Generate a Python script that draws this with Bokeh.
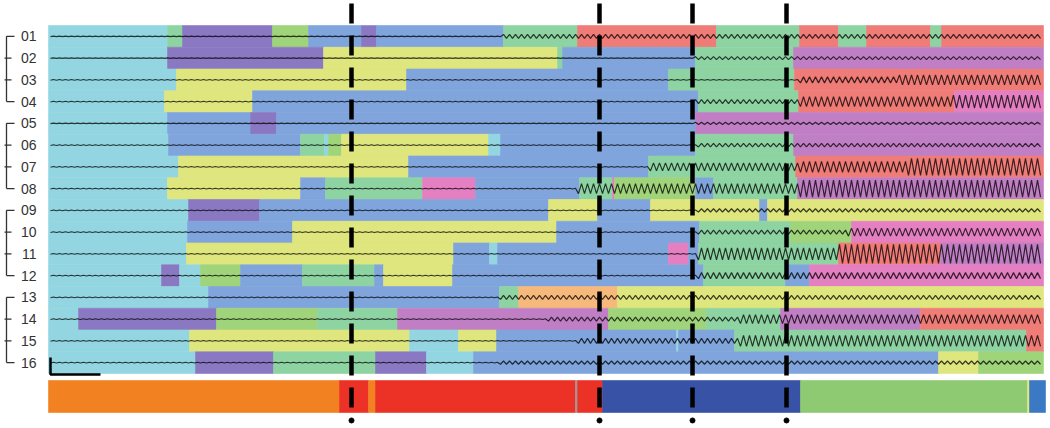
from bokeh.plotting import figure
from bokeh.models import Range1d
from bokeh.embed import file_html
from bokeh.resources import INLINE
from bokeh.core.properties import value

# ---------------- data ----------------
channels = ["01", "02", "03", "04", "05", "06", "07", "08",
            "09", "10", "11", "12", "13", "14", "15", "16"]

state_colors = {
    "cyan": "#93d6e2", "purple": "#8a79c2", "mint": "#8ed4a3", "lime": "#a0d47a",
    "blue": "#80a5dc", "yellow": "#dfe67e", "red": "#f07c78", "pink": "#e47fc1",
    "orchid": "#c07fc4", "orange": "#f7b87c",
}

# segments per channel: (start time, end time, state)
ch01 = [(0, 119, "cyan"), (119, 134, "mint"), (134, 224, "purple"), (224, 260, "lime"),
        (260, 313, "blue"), (313, 328, "purple"), (328, 455, "blue"), (455, 529, "mint"),
        (529, 668, "red"), (668, 751, "mint"), (751, 790, "red"), (790, 818, "mint"),
        (818, 882, "red"), (882, 893, "mint"), (893, 995, "red")]
ch02 = [(0, 119, "cyan"), (119, 275, "purple"), (275, 509, "yellow"), (509, 514, "mint"),
        (514, 647, "blue"), (647, 745, "mint"), (745, 995, "orchid")]
ch03 = [(0, 128, "cyan"), (128, 358, "yellow"), (358, 620, "blue"), (620, 746, "mint"),
        (746, 995, "red")]
ch04 = [(0, 116, "cyan"), (116, 204, "yellow"), (204, 650, "blue"), (650, 750, "mint"),
        (750, 906, "red"), (906, 995, "pink")]
ch05 = [(0, 119, "cyan"), (119, 202, "blue"), (202, 228, "purple"), (228, 647, "blue"),
        (647, 995, "orchid")]
ch06 = [(0, 120, "cyan"), (120, 252, "blue"), (252, 276, "mint"), (276, 280, "cyan"),
        (280, 293, "lime"), (293, 440, "yellow"), (440, 452, "cyan"), (452, 647, "blue"),
        (647, 745, "mint"), (745, 995, "orchid")]
ch07 = [(0, 130, "cyan"), (130, 360, "yellow"), (360, 600, "blue"), (600, 747, "mint"),
        (747, 995, "red")]
ch08 = [(0, 119, "cyan"), (119, 252, "yellow"), (252, 277, "blue"), (277, 374, "mint"),
        (374, 427, "pink"), (427, 531, "blue"), (531, 564, "mint"), (564, 566, "pink"),
        (566, 647, "lime"), (647, 665, "blue"), (665, 749, "mint"), (749, 995, "orchid")]
ch09 = [(0, 140, "cyan"), (140, 211, "purple"), (211, 500, "blue"), (500, 549, "yellow"),
        (549, 602, "blue"), (602, 711, "yellow"), (711, 719, "blue"), (719, 995, "yellow")]
ch10 = [(0, 139, "cyan"), (139, 244, "blue"), (244, 508, "yellow"), (508, 651, "blue"),
        (651, 742, "mint"), (742, 803, "lime"), (803, 995, "pink")]
ch11 = [(0, 138, "cyan"), (138, 405, "yellow"), (405, 441, "blue"), (441, 449, "cyan"),
        (449, 620, "blue"), (620, 640, "pink"), (640, 650, "blue"), (650, 790, "mint"),
        (790, 892, "red"), (892, 995, "orchid")]
ch12 = [(0, 113, "cyan"), (113, 131, "purple"), (131, 152, "cyan"), (152, 192, "lime"),
        (192, 254, "blue"), (254, 326, "mint"), (326, 335, "blue"), (335, 404, "yellow"),
        (404, 655, "blue"), (655, 737, "mint"), (737, 761, "blue"), (761, 995, "pink")]
ch13 = [(0, 160, "cyan"), (160, 451, "blue"), (451, 470, "mint"), (470, 569, "orange"),
        (569, 995, "yellow")]
ch14 = [(0, 30, "cyan"), (30, 168, "purple"), (168, 269, "lime"), (269, 349, "mint"),
        (349, 560, "orchid"), (560, 658, "lime"), (658, 732, "mint"), (732, 872, "orchid"),
        (872, 995, "red")]
ch15 = [(0, 141, "cyan"), (141, 361, "yellow"), (361, 410, "cyan"), (410, 448, "yellow"),
        (448, 628, "blue"), (628, 630, "cyan"), (630, 686, "blue"), (686, 978, "mint"),
        (978, 995, "red")]
ch16 = [(0, 147, "cyan"), (147, 225, "purple"), (225, 327, "mint"), (327, 378, "purple"),
        (378, 425, "cyan"), (425, 890, "blue"), (890, 930, "yellow"), (930, 995, "lime")]
segments = [ch01, ch02, ch03, ch04, ch05, ch06, ch07, ch08,
            ch09, ch10, ch11, ch12, ch13, ch14, ch15, ch16]

# global state bar: (start, end, colour)
bar_colors = {"orange": "#f28122", "red": "#ec3226", "grey": "#9a9a9a",
              "navy": "#3853a5", "green": "#8dca72", "yellow": "#e3e87a", "blue": "#3b79c5"}
state_bar = [(0, 291, "orange"), (291, 320, "red"), (320, 327, "orange"), (327, 527, "red"),
             (527, 529, "grey"), (529, 554, "red"), (554, 752, "navy"), (752, 979, "green"),
             (979, 981, "yellow"), (981, 997, "blue")]

# event markers (time)
markers = [303, 551, 644, 738]

# trace amplitude envelope per channel: (from time, half amplitude)
env01 = [(0, 0.3), (455, 2.0)]
env02 = [(0, 0.3), (645, 1.5)]
env03 = [(0, 0.4), (750, 3.0), (850, 5.0)]
env04 = [(0, 0.4), (645, 2.0), (750, 5.0), (905, 6.5)]
env05 = [(0, 0.3), (645, 1.2)]
env06 = [(0, 0.4), (650, 1.8)]
env07 = [(0, 0.4), (600, 4.0), (750, 5.5), (860, 8.5)]
env08 = [(0, 0.4), (530, 5.0), (750, 8.5)]
env09 = [(0, 0.4), (650, 1.6)]
env10 = [(0, 0.4), (650, 2.0), (800, 4.0)]
env11 = [(0, 0.4), (650, 6.0), (790, 9.5)]
env12 = [(0, 0.4), (650, 3.0)]
env13 = [(0, 0.4), (450, 2.0)]
env14 = [(0, 0.4), (500, 2.0), (690, 4.5)]
env15 = [(0, 0.4), (530, 2.5), (690, 5.5)]
env16 = [(0, 0.4), (450, 1.6)]
envelopes = [env01, env02, env03, env04, env05, env06, env07, env08,
             env09, env10, env11, env12, env13, env14, env15, env16]

# ---------------- figure ----------------
ROW_PX = 21.75
p = figure(width=1050, height=428, x_range=Range1d(-48, 1002),
           y_range=Range1d(19.029, -0.6494), output_backend="svg",
           toolbar_location=None, min_border=0, x_axis_type=None, y_axis_type=None)
p.grid.visible = False
p.outline_line_color = None
p.background_fill_color = "white"

# coloured state bands
L, R, T, B, C = [], [], [], [], []
for k, segs in enumerate(segments, start=1):
    for (s, e, st) in segs:
        L.append(s); R.append(e); T.append(k - 0.5); B.append(k + 0.5)
        C.append(state_colors[st])
p.quad(left=L, right=R, top=T, bottom=B, fill_color=C, line_color=C, line_width=0.6)

# traces
for k, env in enumerate(envelopes, start=1):
    xs, ys = [], []
    t = 2
    i = 0
    while t <= 992:
        a = env[0][1]
        for (t0, amp) in env:
            if t >= t0:
                a = amp
        sgn = 1 if i % 2 == 0 else -1
        xs.append(t)
        ys.append(k + sgn * a / ROW_PX)
        t += 3
        i += 1
    p.line(xs, ys, line_color="black", line_alpha=0.75, line_width=1.2)

# bottom state bar
bl, br, bc = [], [], []
for (s, e, c) in state_bar:
    bl.append(s); br.append(e); bc.append(bar_colors[c])
p.quad(left=bl, right=br, top=16.822, bottom=18.293, fill_color=bc, line_color=bc, line_width=0.6)

# dashed event lines and dots
p.segment(x0=markers, y0=[-0.51] * 4, x1=markers, y1=[18.39] * 4,
          line_color="black", line_width=4.5, line_dash="20 12")
p.scatter(markers, [18.66] * 4, size=5, color="black")

# channel labels
p.text(x=[-12] * 16, y=list(range(1, 17)), text=channels, text_align="right",
       text_baseline="middle", text_font=value("Liberation Sans"),
       text_font_size="14px", text_color="#333333")

# group brackets
for g in range(4):
    top = 4 * g + 1
    bot = 4 * g + 4
    p.segment(x0=[-42], y0=[top], x1=[-42], y1=[bot], line_color="#333333", line_width=1.3)
    p.segment(x0=[-42, -42], y0=[top, bot], x1=[-34, -34], y1=[top, bot],
              line_color="#333333", line_width=1.3)
    p.segment(x0=[-44, -44], y0=[top + 1, top + 2], x1=[-37, -37], y1=[top + 1, top + 2],
              line_color="#333333", line_width=1.3)

# scale bar
p.line([2, 2, 52], [15.76, 16.55, 16.55], line_color="black", line_width=2.5)

open("out.html", "w").write(file_html(p, INLINE))
